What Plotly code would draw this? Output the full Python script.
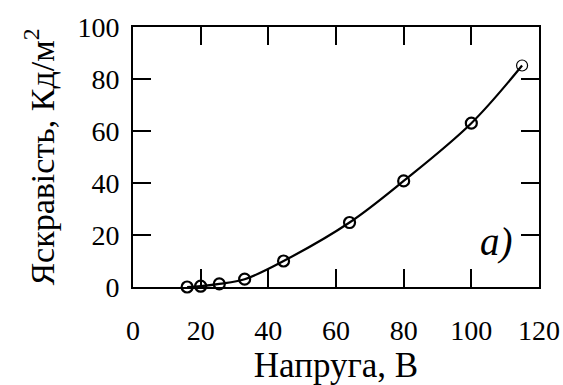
import plotly.graph_objects as go

voltage = [16, 20, 25.5, 33, 44.5, 64, 80, 100, 115]
brightness = [0, 0.3, 1.2, 3, 10, 24.8, 40.8, 63, 85.2]
marker_widths = [2.2, 2.2, 2.2, 2.2, 2.2, 2.2, 2.2, 2.2, 1.2]

x_title = "Напруга, В"
y_title = "Яскравість, Кд/м<sup>2</sup>"
panel_label = "<i>a)</i>"

FONT = "Liberation Serif"

fig = go.Figure()
fig.add_trace(go.Scatter(
    x=voltage, y=brightness, mode="lines+markers",
    line=dict(color="black", width=2.2, shape="spline", smoothing=1.0),
    marker=dict(symbol="circle-open", size=11, color="black",
                line=dict(color="black", width=marker_widths)),
    showlegend=False, cliponaxis=False,
))

fig.add_annotation(x=107.5, y=17.5, xref="x", yref="y", text=panel_label,
                   showarrow=False, font=dict(family=FONT, size=39, color="black"))

axis_common = dict(
    showline=True, linecolor="black", linewidth=2, mirror="allticks",
    ticks="inside", ticklen=18, tickwidth=2, tickcolor="black",
    showgrid=False, zeroline=False, dtick=20, automargin=False,
    tickfont=dict(family=FONT, size=28, color="black"),
)

fig.update_xaxes(range=[0, 120], title=dict(text=x_title, standoff=9,
                 font=dict(family=FONT, size=35, color="black")),
                 ticklabelstandoff=17, **axis_common)
fig.update_yaxes(range=[0, 100], title=dict(text=y_title, standoff=13,
                 font=dict(family=FONT, size=34, color="black")),
                 ticklabelstandoff=6, **axis_common)

fig.update_layout(
    width=563, height=385,
    margin=dict(l=133, r=24, t=27, b=98),
    paper_bgcolor="white", plot_bgcolor="white",
    font=dict(family=FONT, color="black"),
)

fig.write_html("out.html")
